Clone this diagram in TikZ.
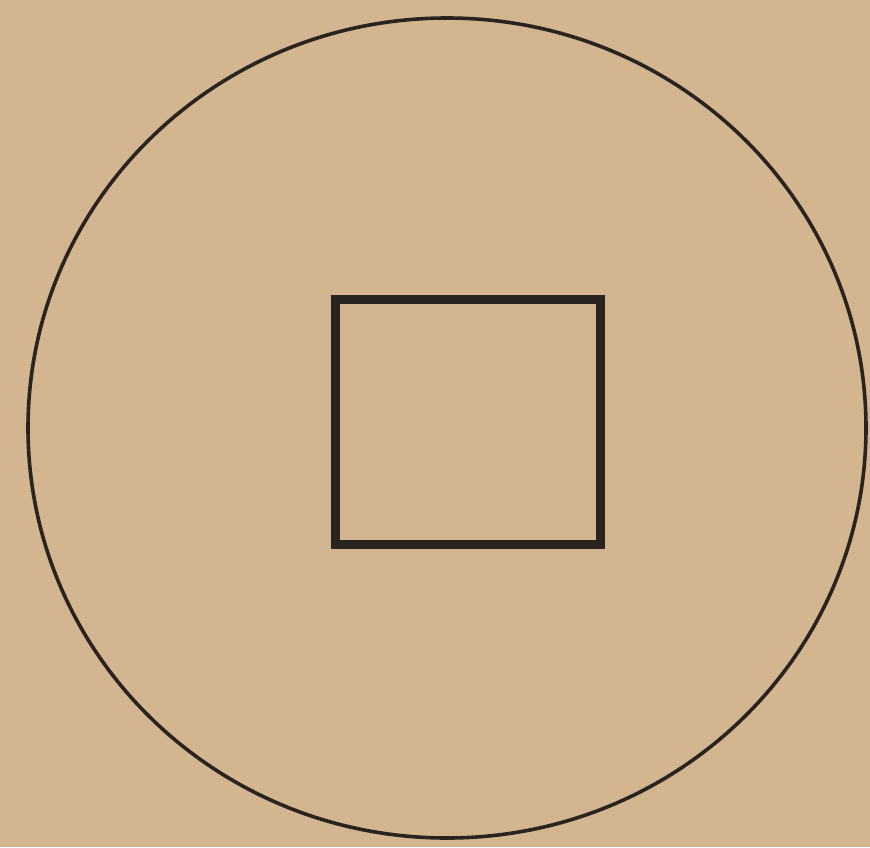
\documentclass[tikz,border=0pt]{standalone}
\usepackage{tikz}
\usetikzlibrary{positioning}
\definecolor{coinpaper}{HTML}{D3B58F}
\definecolor{coinink}{HTML}{2A2420}

\begin{document}
\begin{tikzpicture}[
  x=1pt,y=-1pt,
  rim/.style={draw=coinink,line width=3.6pt,line cap=round,line join=round},
  hole/.style={draw=coinink,line width=9pt,line join=miter}
]
% paper
\fill[coinpaper] (0,0) rectangle (870,847);
\useasboundingbox (0,0) rectangle (870,847);
% outer rim of the coin
\draw[rim] (447,428) ellipse [x radius=419, y radius=410];
% square hole
\draw[hole] (335,299) rectangle (600,544);
\end{tikzpicture}
\end{document}
